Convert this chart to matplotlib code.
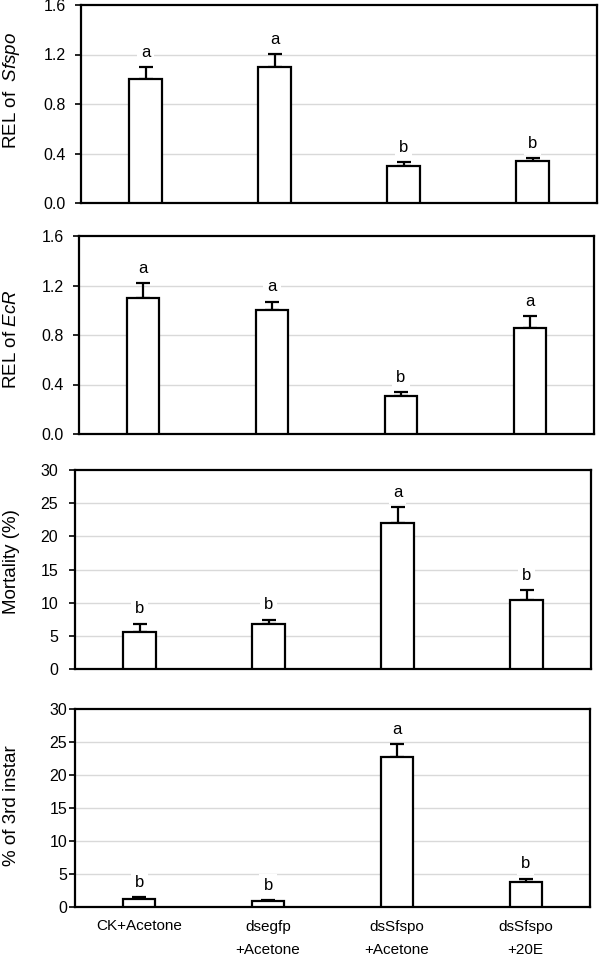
import matplotlib.pyplot as plt
import numpy as np

plt.rcParams['font.family'] = ['Liberation Sans', 'DejaVu Sans']
plt.rcParams['mathtext.fontset'] = 'custom'
plt.rcParams['mathtext.rm'] = 'Liberation Sans'
plt.rcParams['mathtext.it'] = 'Liberation Sans:italic'

groups = ['CK+Acetone', 'dsegfp\n+Acetone', 'dsSfspo\n+Acetone', 'dsSfspo\n+20E']

sfspo = [1.00, 1.10, 0.30, 0.34]
sfspo_err = [0.10, 0.10, 0.03, 0.02]
sfspo_sig = ['a', 'a', 'b', 'b']

ecr = [1.10, 1.00, 0.31, 0.86]
ecr_err = [0.12, 0.07, 0.03, 0.09]
ecr_sig = ['a', 'a', 'b', 'a']

mortality = [5.6, 6.8, 22.0, 10.4]
mortality_err = [1.2, 0.6, 2.4, 1.5]
mortality_sig = ['b', 'b', 'a', 'b']

instar3 = [1.2, 0.9, 22.7, 3.8]
instar3_err = [0.3, 0.15, 2.0, 0.5]
instar3_sig = ['b', 'b', 'a', 'b']

ylabels = [r'REL of  $\mathit{Sfspo}$', r'REL of $\mathit{EcR}$',
           'Mortality (%)', '% of 3rd instar']
yticks = [[0.0, 0.4, 0.8, 1.2, 1.6], [0.0, 0.4, 0.8, 1.2, 1.6],
          [0, 5, 10, 15, 20, 25, 30], [0, 5, 10, 15, 20, 25, 30]]
tickfmt = ['{:.1f}', '{:.1f}', '{:d}', '{:d}']

W, H = 600, 966
# axes boxes in pixels: left, top, right, bottom
boxes = [(81, 5, 597, 203), (79, 236, 594, 434),
         (75, 470, 591, 669), (75, 709, 590, 907)]
label_y = [90, 339, 562, 806]
label_pad = [7, 7, 8, 1.5]

panels = [(sfspo, sfspo_err, sfspo_sig), (ecr, ecr_err, ecr_sig),
          (mortality, mortality_err, mortality_sig),
          (instar3, instar3_err, instar3_sig)]

fig = plt.figure(figsize=(W / 100, H / 100), dpi=100)
x = np.arange(len(groups))

for i, (vals, errs, sig) in enumerate(panels):
    l, t, r, b = boxes[i]
    ax = fig.add_axes([l / W, 1 - b / H, (r - l) / W, (b - t) / H])
    ymax = yticks[i][-1]
    ax.bar(x, vals, width=0.25, color='white', edgecolor='black',
           linewidth=1.6, zorder=3)
    ax.errorbar(x, vals, yerr=[np.zeros(len(vals)), errs], fmt='none',
                ecolor='black', elinewidth=1.6, capsize=5, capthick=1.6,
                zorder=2)
    for xi, v, e, s in zip(x, vals, errs, sig):
        ax.text(xi, v + e + 0.075 * ymax, s, ha='center', va='center',
                fontsize=12, zorder=4,
                bbox=dict(facecolor='white', edgecolor='none', pad=3))
    for yt in yticks[i][1:-1]:
        ax.axhline(yt, color='#d9d9d9', lw=1, zorder=1)
    ax.set_xlim(-0.5, len(groups) - 0.5)
    ax.set_ylim(0, ymax)
    ax.set_yticks(yticks[i])
    ax.set_yticklabels([tickfmt[i].format(v) for v in yticks[i]])
    ax.tick_params(axis='y', direction='out', length=4, width=1.2,
                   pad=label_pad[i], labelsize=11.5, colors='black')
    for sp in ax.spines.values():
        sp.set_linewidth(1.6)
    if i == 3:
        ax.set_xticks(x)
        ax.set_xticklabels(groups, fontsize=11, linespacing=1.9, va='top')
        ax.tick_params(axis='x', length=0, pad=9)
    else:
        ax.set_xticks([])
    fig.text(12 / W, 1 - label_y[i] / H, ylabels[i], rotation=90,
             ha='center', va='center', fontsize=13.5)

fig.savefig('out.png', dpi=100)
